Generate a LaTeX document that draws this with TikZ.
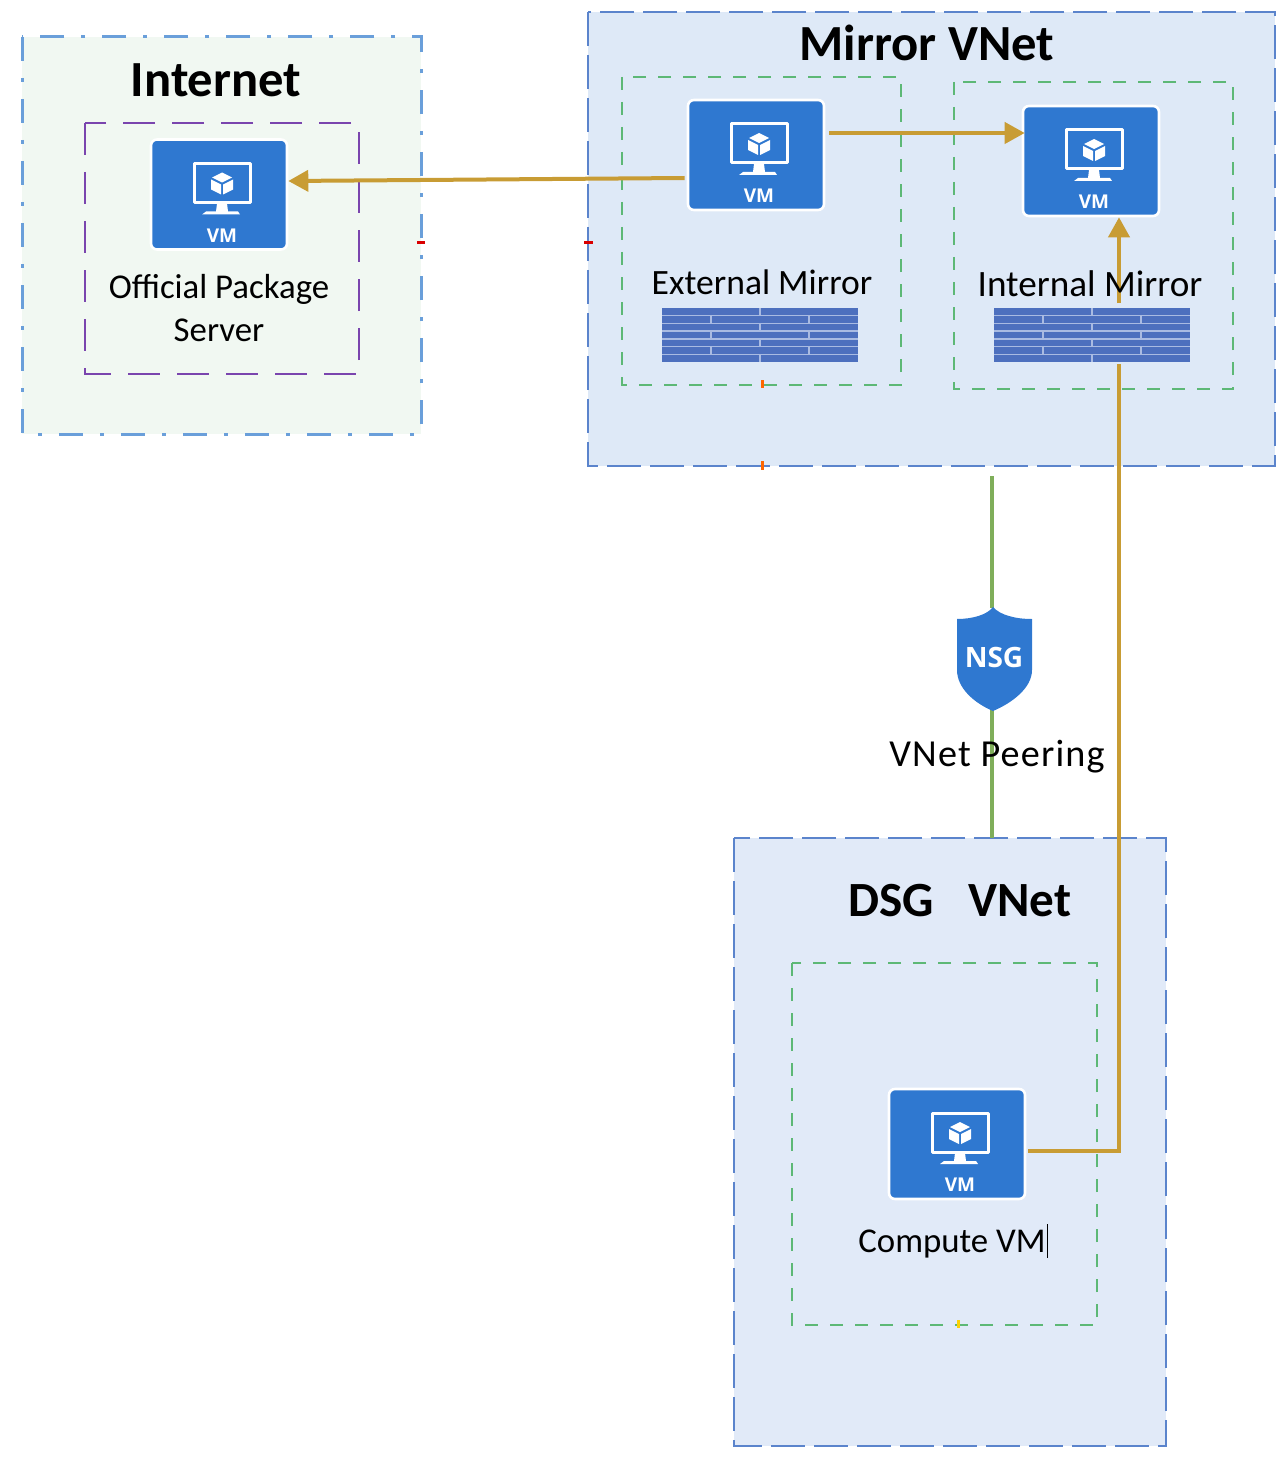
\documentclass[tikz,border=0pt]{standalone}
\usepackage{fontspec}
\setmainfont{Carlito}
\newfontfamily\iconfont{Open Sans}
\usetikzlibrary{arrows.meta}
\definecolor{azure}{HTML}{2F78D0}
\definecolor{fwblue}{HTML}{4D70BE}
\definecolor{fwline}{HTML}{A9BBE2}
\definecolor{mirrorfill}{HTML}{DEE9F7}
\definecolor{dsgfill}{HTML}{E1EAF8}
\definecolor{netfill}{HTML}{F1F8F2}
\definecolor{netblue}{HTML}{6A9FDA}
\definecolor{vnetblue}{HTML}{5B84CC}
\definecolor{subgreen}{HTML}{5DB876}
\definecolor{purpbox}{HTML}{7A45AE}
\definecolor{goldline}{HTML}{C89C34}
\definecolor{peergreen}{HTML}{7FAE5A}
\tikzset{
  x=0.5pt,y=-0.5pt,
  netbox/.style={draw=netblue,fill=netfill,line width=1.5pt,dash pattern=on 12pt off 8.5pt on 2pt off 8.5pt},
  vnetbox/.style={draw=vnetblue,line width=1.3pt,dash pattern=on 17pt off 4.5pt},
  subnetbox/.style={draw=subgreen,line width=1.4pt,dash pattern=on 6.5pt off 6pt},
  purplebox/.style={draw=purpbox,line width=1.3pt,dash pattern=on 16pt off 8.5pt},
  vmbox/.style={draw=white,line width=1.3pt,fill=azure,rounded corners=3pt,minimum width=68pt,minimum height=55pt,inner sep=0pt},
  fwbox/.style={fill=fwblue,minimum width=98pt,minimum height=27pt,inner sep=0pt},
  goldarrow/.style={draw=goldline,line width=2pt,-{Triangle[length=10pt,width=10.5pt]}},
  goldplain/.style={draw=goldline,line width=2pt},
  peerline/.style={draw=peergreen,line width=2pt},
  lab/.style={inner sep=0pt,font=\fontsize{17.4}{20}\selectfont},
  head/.style={inner sep=0pt,font=\fontsize{25.3}{28}\selectfont\bfseries},
  speck/.style={line width=1.5pt},
  pics/vmicon/.style={code={
    \draw[white,line width=1.5pt,line join=round] (-25,-31) rectangle (31,8);
    \fill[white] (-2,9) -- (8,9) -- (9,17) -- (19,17) -- (21,20) -- (-17,20) -- (-13,17) -- (-3,17) -- cycle;
    \fill[white] (3,-22) -- (13,-17) -- (3,-12) -- (-7,-17) -- cycle;
    \fill[white] (-8,-15) -- (2,-10) -- (2,0) -- (-8,-5) -- cycle;
    \fill[white] (14,-15) -- (4,-10) -- (4,0) -- (14,-5) -- cycle;
    \node[white,inner sep=0pt,font=\fontsize{9.5}{10}\selectfont\iconfont\bfseries] at (3,41) {VM};
  }},
  pics/fwbricks/.style={code={
    \foreach \r in {1,...,6} \draw[fwline,line width=0.7pt] (-98,-27+\r*54/7) -- (98,-27+\r*54/7);
    \foreach \r in {0,2,4,6} \draw[fwline,line width=0.6pt] (0,-27+\r*54/7) -- (0,-27+\r*54/7+54/7);
    \foreach \r in {1,3,5} {
      \draw[fwline,line width=0.6pt] (-49,-27+\r*54/7) -- (-49,-27+\r*54/7+54/7);
      \draw[fwline,line width=0.6pt] (49,-27+\r*54/7) -- (49,-27+\r*54/7+54/7);
    }
  }}
}
\begin{document}
\begin{tikzpicture}
\useasboundingbox (0,0) rectangle (1287,1466);
% zones
\path[netbox] (22,37) rectangle (421,434);
\path[purplebox] (85,123) rectangle (359,374);
\fill[mirrorfill] (588,12) rectangle (1275,466);
\path[vnetbox] (588,12) rectangle (1275,466);
\path[subnetbox] (622,77) rectangle (901,385);
\path[subnetbox] (954,82) rectangle (1233,389);
\fill[dsgfill] (734,838) rectangle (1166,1446);
\path[vnetbox] (734,838) rectangle (1166,1446);
\path[subnetbox] (792,963) rectangle (1097,1325);
% titles
\node[head] (internetlabel) at (216,80) {Internet};
\node[head] (mirrorlabel) at (927,43) {Mirror VNet};
\node[head,font=\fontsize{24.6}{28}\selectfont\bfseries] (dsglabel) at (960,901) {DSG\hspace{17pt}VNet};
% VMs
\node[vmbox] (officialvm) at (219,194.5) {};
\pic at (officialvm) {vmicon};
\node[vmbox] (externalvm) at (756,155) {};
\pic at (externalvm) {vmicon};
\node[vmbox] (internalvm) at (1091,161) {};
\pic at (internalvm) {vmicon};
\node[vmbox] (computevm) at (957,1144) {};
\pic at (computevm) {vmicon};
% firewalls
\node[fwbox] (externalfw) at (760,335) {};
\pic at (externalfw) {fwbricks};
\node[fwbox] (internalfw) at (1092,335) {};
\pic at (internalfw) {fwbricks};
% peering
\coordinate (peertop) at (992,476);
\node[inner sep=0pt,minimum width=37pt,minimum height=51pt] (nsg) at (994,659) {};
\draw[peerline] (peertop) -- (peertop |- nsg.north);
\draw[peerline] (peertop |- nsg.south) -- (peertop |- 0,838);
\fill[azure] (993,607) .. controls (1000,615) and (1015,619) .. (1032,619) -- (1032,670) .. controls (1032,688) and (1012,703) .. (993,711) .. controls (974,703) and (957,688) .. (957,670) -- (957,619) .. controls (972,619) and (987,615) .. (993,607) -- cycle;
\node[white,inner sep=0pt,font=\fontsize{14}{15}\selectfont\iconfont\bfseries] at (994,657) {NSG};
% connectors
\coordinate (extout) at ([yshift=11pt,xshift=2pt]externalvm.east);
\coordinate (intin) at ([yshift=14pt,xshift=1.5pt]internalvm.west);
\coordinate (extleft) at ([yshift=-11.5pt,xshift=-1pt]externalvm.west);
\coordinate (offin) at ([yshift=6.75pt]officialvm.east);
\coordinate (computeout) at ([yshift=-3.5pt,xshift=1pt]computevm.east);
\coordinate (riserlow) at (1119,364);
\coordinate (riserhigh) at (1119,303);
\draw[goldarrow] (extout) -- (intin);
\draw[goldarrow] (extleft) -- (offin);
\draw[goldplain,line join=miter] (computeout) -- (riserlow |- computeout) -- (riserlow);
\draw[goldarrow] (riserhigh) -- (riserhigh |- internalvm.south);
% labels
\node[lab] (officiallabel) at (219,289) {Official Package};
\node[lab] (serverlabel) at (219,330) {Server};
\node[lab,font=\fontsize{17.8}{20}\selectfont] (externallabel) at (762,282) {External Mirror};
\node[lab,font=\fontsize{18.6}{20}\selectfont] (internallabel) at (1090,284) {Internal Mirror};
\node[lab,font=\fontsize{19.1}{20}\selectfont\addfontfeature{LetterSpace=3}] (peeringlabel) at (997,757) {VNet Peering};
\node[lab] (computelabel) at (952,1244) {Compute VM};
\draw[black,line width=0.5pt] (1047,1224) -- (1047,1258);
% specks
\draw[speck,red!85!black] (417,243) -- (425,243);
\draw[speck,red!85!black] (584,243) -- (593,243);
\draw[speck,orange!80!red] (762,380) -- (762,388);
\draw[speck,orange!80!red] (762,461) -- (762,470);
\draw[speck,yellow!70!orange] (958,1320) -- (958,1328);
\end{tikzpicture}
\end{document}
